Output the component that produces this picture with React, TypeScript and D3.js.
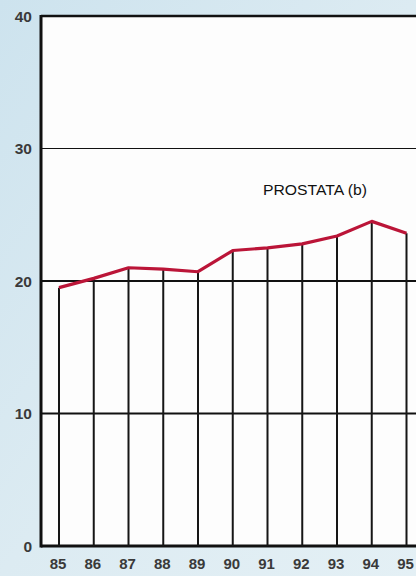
import { useEffect, useRef } from "react";
import * as d3 from "d3";

const years = ["85", "86", "87", "88", "89", "90", "91", "92", "93", "94", "95"];
const prostata = [19.5, 20.2, 21.0, 20.9, 20.7, 22.3, 22.5, 22.8, 23.4, 24.5, 23.6];
const yTicks = [0, 10, 20, 30, 40];
const seriesLabel = "PROSTATA (b)";

export default function App() {
  const ref = useRef<SVGSVGElement>(null);

  useEffect(() => {
    const W = 416;
    const H = 576;
    const left = 41;
    const top = 16;
    const bottom = 546;

    const svg = d3.select(ref.current);
    svg.selectAll("*").remove();

    const x = d3.scalePoint().domain(years).range([59, 406.5]);
    const y = d3.scaleLinear().domain([0, 40]).range([bottom, top]);

    // paper background
    const defs = svg.append("defs");
    const grad = defs
      .append("linearGradient")
      .attr("id", "bg")
      .attr("x1", 0)
      .attr("y1", 0)
      .attr("x2", 1)
      .attr("y2", 1);
    grad.append("stop").attr("offset", "0%").attr("stop-color", "#cde3ee");
    grad.append("stop").attr("offset", "50%").attr("stop-color", "#dcebf2");
    grad.append("stop").attr("offset", "100%").attr("stop-color", "#e4f0f5");
    svg.append("rect").attr("width", W).attr("height", H).attr("fill", "url(#bg)");

    // plot area
    svg
      .append("rect")
      .attr("x", left)
      .attr("y", top)
      .attr("width", W - left)
      .attr("height", bottom - top)
      .attr("fill", "#fdfdfd");

    // horizontal grid
    const gridW: Record<number, number> = { 0: 3, 10: 2, 20: 2, 30: 1, 40: 2.5 };
    svg
      .append("g")
      .selectAll("line")
      .data(yTicks)
      .join("line")
      .attr("x1", left)
      .attr("x2", W)
      .attr("y1", (d) => y(d))
      .attr("y2", (d) => y(d))
      .attr("stroke", "#111")
      .attr("stroke-width", (d) => gridW[d]);

    // left axis
    svg
      .append("line")
      .attr("x1", left)
      .attr("x2", left)
      .attr("y1", top - 1)
      .attr("y2", bottom + 1.5)
      .attr("stroke", "#111")
      .attr("stroke-width", 3);

    // drop lines
    svg
      .append("g")
      .selectAll("line")
      .data(prostata)
      .join("line")
      .attr("x1", (_, i) => x(years[i])!)
      .attr("x2", (_, i) => x(years[i])!)
      .attr("y1", (d) => y(d))
      .attr("y2", y(0))
      .attr("stroke", "#161616")
      .attr("stroke-width", 2);

    // series line
    const line = d3
      .line<number>()
      .x((_, i) => x(years[i])!)
      .y((d) => y(d));
    svg
      .append("path")
      .datum(prostata)
      .attr("d", line)
      .attr("fill", "none")
      .attr("stroke", "#bb1538")
      .attr("stroke-width", 3.2)
      .attr("stroke-linejoin", "round");

    // y labels
    svg
      .append("g")
      .selectAll("text")
      .data(yTicks)
      .join("text")
      .attr("x", 32)
      .attr("y", (d) => y(d) + 5.5)
      .attr("text-anchor", "end")
      .attr("font-family", "Liberation Sans, Arial, sans-serif")
      .attr("font-weight", "bold")
      .attr("font-size", 15.5)
      .attr("fill", "#3a3a3a")
      .text((d) => d);

    // x labels
    svg
      .append("g")
      .selectAll("text")
      .data(years)
      .join("text")
      .attr("x", (d) => x(d)! - 1)
      .attr("y", 569)
      .attr("text-anchor", "middle")
      .attr("font-family", "Liberation Sans, Arial, sans-serif")
      .attr("font-weight", "bold")
      .attr("font-size", 15)
      .attr("fill", "#3a3a3a")
      .text((d) => d);

    // series label
    svg
      .append("text")
      .attr("x", 315)
      .attr("y", 194.5)
      .attr("text-anchor", "middle")
      .attr("font-family", "Liberation Sans, Arial, sans-serif")
      .attr("font-size", 14.5)
      .attr("fill", "#111")
      .attr("textLength", 104)
      .attr("lengthAdjust", "spacingAndGlyphs")
      .text(seriesLabel);
  }, []);

  return (
    <svg
      ref={ref}
      width={416}
      height={576}
      style={{ position: "absolute", left: 0, top: 0, display: "block" }}
    />
  );
}
